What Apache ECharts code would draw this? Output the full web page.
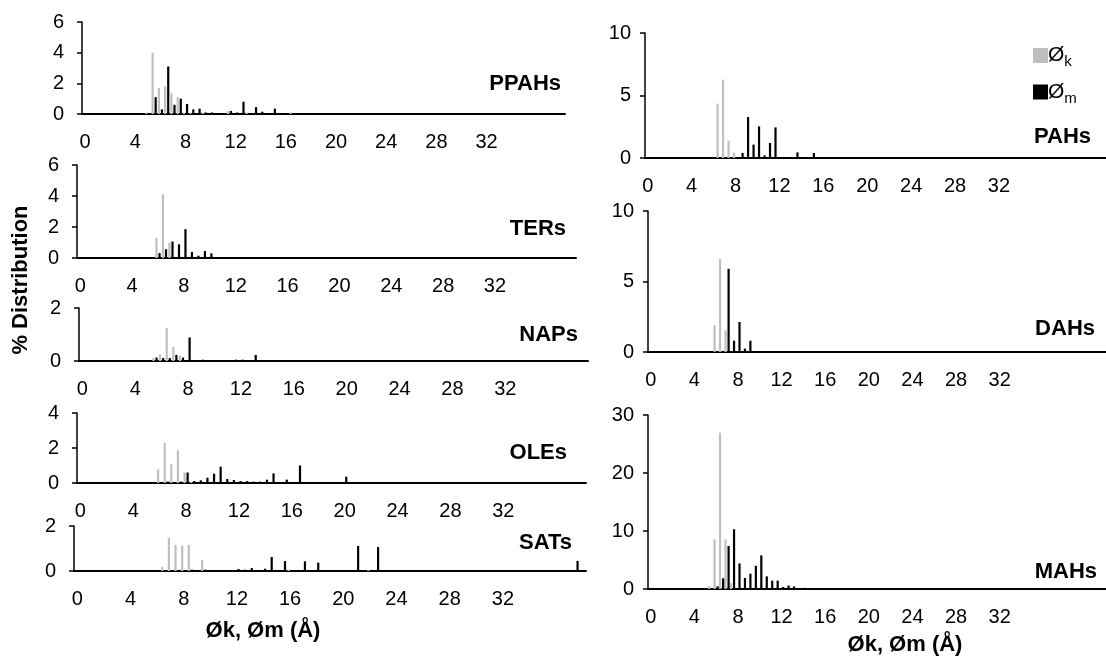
<!DOCTYPE html>
<html>
<head>
<meta charset="utf-8">
<title>Pore diameter distributions</title>
<script src="https://cdn.jsdelivr.net/npm/echarts@6/dist/echarts.min.js"></script>
<style>
  html, body { margin: 0; padding: 0; background: #fff; }
  #chart { width: 1106px; height: 659px; }
</style>
</head>
<body>
<div id="chart"></div>
<script>
// Kinetic (Øk) vs. minimum (Øm) diameter distributions per hydrocarbon family.
// Category axis in 0.5 Å steps, values are % distribution.

const diameters = [
  '0', '0.5', '1', '1.5', '2', '2.5', '3', '3.5', '4', '4.5', '5', '5.5', '6', '6.5',
  '7', '7.5', '8', '8.5', '9', '9.5', '10', '10.5', '11', '11.5', '12', '12.5', '13', '13.5',
  '14', '14.5', '15', '15.5', '16', '16.5', '17', '17.5', '18', '18.5', '19', '19.5', '20', '20.5',
  '21', '21.5', '22', '22.5', '23', '23.5', '24', '24.5', '25', '25.5', '26', '26.5', '27', '27.5',
  '28', '28.5', '29', '29.5', '30', '30.5', '31', '31.5', '32', '32.5', '33', '33.5', '34', '34.5',
  '35', '35.5', '36', '36.5', '37', '37.5', '38', '38.5', '39', '39.5', '40', '40.5', '41', '41.5'
];
const leftCount = 77;   // left column axes run 0 – 38 Å

// [diameter Å, % distribution]
const ppahsK = [[5, 0.1], [5.5, 4.0], [6, 1.7], [6.5, 1.8], [7, 1.35], [7.5, 1.1], [8, 0.1],
  [8.5, 0.05], [9.5, 0.1], [11.5, 0.2], [13, 0.1], [16.5, 0.1]];
const ppahsM = [[5.5, 1.1], [6, 0.3], [6.5, 3.1], [7, 0.6], [7.5, 1.0], [8, 0.65], [8.5, 0.3],
  [9, 0.35], [9.5, 0.1], [10, 0.1], [11, 0.05], [11.5, 0.2], [12, 0.1], [12.5, 0.8], [13, 0.05],
  [13.5, 0.45], [14, 0.15], [15, 0.35]];

const tersK = [[6, 1.3], [6.5, 4.1], [7, 1.0]];
const tersM = [[5.5, 0.05], [6, 0.32], [6.5, 0.56], [7, 1.06], [7.5, 0.88], [8, 1.86], [8.5, 0.39],
  [9, 0.15], [9.5, 0.45], [10, 0.3], [10.5, 0.05], [11, 0.03], [12.5, 0.03]];

const napsK = [[5.5, 0.11], [6, 0.25], [6.5, 1.24], [7, 0.53], [7.5, 0.2]];
const napsM = [[5.5, 0.13], [6, 0.11], [6.5, 0.11], [7, 0.23], [7.5, 0.13], [8, 0.89], [9, 0.05],
  [10, 0.04], [11.5, 0.05], [12, 0.05], [13, 0.23]];

const olesK = [[6, 0.78], [6.5, 2.3], [7, 1.07], [7.5, 1.87], [8, 0.6], [8.5, 0.05]];
const olesM = [[6.5, 0.08], [7.5, 0.08], [8, 0.6], [8.5, 0.11], [9, 0.15], [9.5, 0.3], [10, 0.53],
  [10.5, 0.93], [11, 0.23], [11.5, 0.17], [12, 0.11], [12.5, 0.11], [13, 0.08], [13.5, 0.08],
  [14, 0.19], [14.5, 0.55], [15, 0.05], [15.5, 0.19], [16.5, 1.0], [20, 0.36], [22.5, 0.03]];

const satsK = [[6.5, 0.18], [7, 1.47], [7.5, 1.16], [8, 1.13], [8.5, 1.16], [9.5, 0.49], [16, 0.06],
  [22, 0.05]];
const satsM = [[8.5, 0.06], [9.5, 0.06], [10.5, 0.04], [12, 0.09], [12.5, 0.06], [13, 0.13],
  [14, 0.1], [14.5, 0.62], [15.5, 0.44], [17, 0.43], [18, 0.37], [19.5, 0.02], [21, 1.11],
  [22.5, 1.07], [37.5, 0.45]];

const pahsK = [[6.5, 4.35], [7, 6.27], [7.5, 1.39], [8, 0.43]];
const pahsM = [[8.5, 0.4], [9, 3.28], [9.5, 1.07], [10, 2.53], [10.5, 0.21], [11, 1.2], [11.5, 2.45],
  [13.5, 0.45], [15, 0.4], [16, 0.05]];

const dahsK = [[6, 1.9], [6.5, 6.6], [7, 1.54]];
const dahsM = [[7, 5.9], [7.5, 0.8], [8, 2.13], [8.5, 0.24], [9, 0.8], [11, 0.03], [15, 0.03]];

const mahsK = [[5.5, 0.5], [6, 8.56], [6.5, 26.95], [7, 8.56], [7.5, 1.0]];
const mahsM = [[6, 0.45], [6.5, 1.84], [7, 7.4], [7.5, 10.3], [8, 4.4], [8.5, 1.9], [9, 2.64],
  [9.5, 4.0], [10, 5.8], [10.5, 2.18], [11, 1.44], [11.5, 1.44], [12, 0.34], [12.5, 0.6],
  [13, 0.45], [14, 0.2]];

const panelNames = ['PPAHs', 'TERs', 'NAPs', 'OLEs', 'SATs', 'PAHs', 'DAHs', 'MAHs'];
const panelK = [ppahsK, tersK, napsK, olesK, satsK, pahsK, dahsK, mahsK];
const panelM = [ppahsM, tersM, napsM, olesM, satsM, pahsM, dahsM, mahsM];
const yMax = [6, 6, 2, 4, 2, 10, 10, 30];
const yStep = [2, 2, 2, 2, 2, 5, 5, 10];

// ── Layout (px) ─────────────────────────────────────────────────────────
const FONT = "'Liberation Sans', Arial, sans-serif";
const layout = [
  { left: 82, top: 22, width: 483, height: 92, tx: 561, ty: 84 },
  { left: 77, top: 165, width: 499, height: 93, tx: 566, ty: 229 },
  { left: 79, top: 308, width: 509, height: 53, tx: 578, ty: 335 },
  { left: 77, top: 413, width: 509, height: 70, tx: 567, ty: 453 },
  { left: 74, top: 526, width: 512, height: 45, tx: 572, ty: 543 },
  { left: 645, top: 33, width: 550, height: 125, tx: 1091, ty: 137 },
  { left: 648, top: 211, width: 550, height: 141, tx: 1095, ty: 329 },
  { left: 648, top: 415, width: 550, height: 174, tx: 1097, ty: 572 },
];

function dense(pairs, cats) {
  const out = cats.map(() => 0);
  for (const [d, v] of pairs) {
    const i = cats.indexOf(String(d));
    if (i >= 0) out[i] = v;
  }
  return out;
}

const grids = [], xAxes = [], yAxes = [], series = [], graphic = [];

panelNames.forEach((name, p) => {
  const L = layout[p];
  const right = p >= 5;
  const cats = right ? diameters : diameters.slice(0, leftCount);
  grids.push({ left: L.left, top: L.top, width: L.width, height: L.height });
  xAxes.push({
    type: 'category', gridIndex: p, data: cats,
    axisLine: { lineStyle: { color: '#000', width: 2 } },
    axisTick: { show: false },
    axisLabel: {
      interval: (i) => i % 8 === 0 && i <= 64,
      color: '#000', fontSize: 20, fontFamily: FONT, margin: 18,
    },
  });
  yAxes.push({
    type: 'value', gridIndex: p, min: 0, max: yMax[p], interval: yStep[p],
    splitLine: { show: false },
    axisLine: { show: true, lineStyle: { color: '#000', width: 1.5 } },
    axisTick: { show: true, length: 5, lineStyle: { color: '#000', width: 1.5 } },
    axisLabel: { color: '#000', fontSize: 20, fontFamily: FONT, margin: right ? 14 : 18 },
  });
  series.push({
    name: 'Øk', type: 'bar', xAxisIndex: p, yAxisIndex: p,
    data: dense(panelK[p], cats), barWidth: 2.2, barGap: '40%',
    itemStyle: { color: '#BFBFBF' },
  });
  series.push({
    name: 'Øm', type: 'bar', xAxisIndex: p, yAxisIndex: p,
    data: dense(panelM[p], cats), barWidth: 2.2, barGap: '40%',
    itemStyle: { color: '#000' },
  });
  graphic.push({
    type: 'text', x: L.tx, y: L.ty, silent: true,
    style: { text: name, fill: '#000', font: `bold 22px ${FONT}`,
      align: 'right', verticalAlign: 'middle' },
  });
});

// Axis titles
graphic.push({
  type: 'text', x: 21, y: 280, rotation: Math.PI / 2, silent: true,
  style: { text: '% Distribution', fill: '#000', font: `bold 22px ${FONT}`,
    align: 'center', verticalAlign: 'middle' },
});
graphic.push({
  type: 'text', x: 263, y: 631, silent: true,
  style: { text: 'Øk, Øm (Å)', fill: '#000', font: `bold 22px ${FONT}`,
    align: 'center', verticalAlign: 'middle' },
});
graphic.push({
  type: 'text', x: 905, y: 645, silent: true,
  style: { text: 'Øk, Øm (Å)', fill: '#000', font: `bold 22px ${FONT}`,
    align: 'center', verticalAlign: 'middle' },
});

const chart = echarts.init(document.getElementById('chart'));
chart.setOption({
  animation: false,
  grid: grids,
  xAxis: xAxes,
  yAxis: yAxes,
  series,
  graphic,
  legend: {
    data: ['Øk', 'Øm'],
    orient: 'vertical', left: 1028, top: 40,
    icon: 'rect', itemWidth: 15, itemHeight: 15, itemGap: 12,
    formatter: (n) => 'Ø{sub|' + n.slice(1) + '}',
    textStyle: {
      color: '#000', fontSize: 21, fontFamily: FONT, padding: [0, 0, 0, -5],
      rich: { sub: { fontSize: 15, fontFamily: FONT, color: '#000', padding: [13, 0, 0, 0] } },
    },
  },
});
</script>
</body>
</html>
